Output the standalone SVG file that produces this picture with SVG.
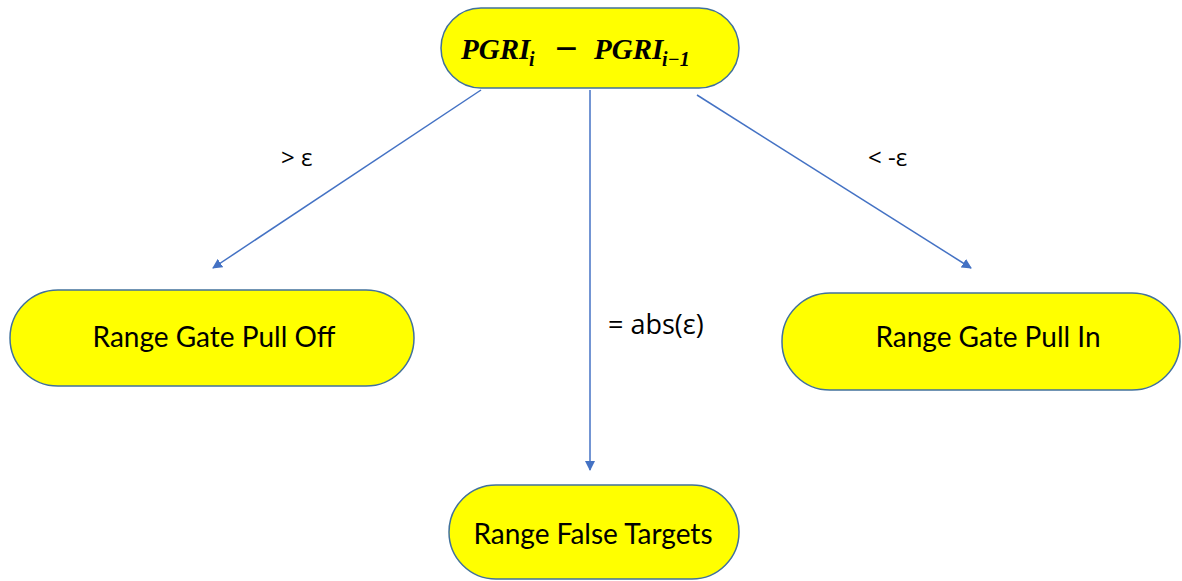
<svg xmlns="http://www.w3.org/2000/svg" width="1182" height="581" viewBox="0 0 1182 581">
<defs>
<marker id="arr" viewBox="0 0 10 10" refX="9" refY="5" markerWidth="10" markerHeight="10" markerUnits="userSpaceOnUse" orient="auto">
<path d="M0,0 L10,5 L0,10 z" fill="#4472C4"/>
</marker>
</defs>
<style>
.node{fill:#FFFF00;stroke:#41719C;stroke-width:1.5}
.lbl{font-family:Lato,"Open Sans",sans-serif;font-size:28px;fill:#000;text-anchor:middle}
.edge{stroke:#4472C4;stroke-width:1.5;fill:none;marker-end:url(#arr)}
.elbl{font-family:"Open Sans",Lato,sans-serif;font-size:24px;fill:#000}
.math{font-family:"Liberation Serif",serif;font-style:italic;font-weight:bold;fill:#000;font-size:29px}
.sub{font-size:20px}
</style>
<rect width="1182" height="581" fill="#fff"/>
<g id="connectors">
<line class="edge" x1="481" y1="90" x2="213" y2="268"/>
<line class="edge" x1="590" y1="90" x2="590" y2="470"/>
<line class="edge" x1="697" y1="95" x2="971" y2="268"/>
<text class="elbl" x="281" y="166">&gt; ε</text>
<text class="elbl" x="868" y="166">&lt; -ε</text>
<text class="elbl" x="608" y="334" style="font-size:27px">= abs(ε)</text>
</g>
<g id="top">
<rect class="node" x="441" y="8" width="298" height="80" rx="40" ry="40"/>
<text class="math" y="59"><tspan x="461">PGRI</tspan><tspan class="sub" x="529" y="66">i</tspan><tspan x="555" y="62" font-style="normal" font-size="40">−</tspan><tspan x="594" y="59">PGRI</tspan><tspan class="sub" x="662" y="66">i−1</tspan></text>
</g>
<g id="pull-off">
<rect class="node" x="10" y="290" width="404" height="96" rx="48" ry="48"/>
<text class="lbl" x="214" y="347">Range Gate Pull Off</text>
</g>
<g id="pull-in">
<rect class="node" x="782" y="293" width="398" height="97" rx="48" ry="48"/>
<text class="lbl" x="988" y="347">Range Gate Pull In</text>
</g>
<g id="false-targets">
<rect class="node" x="449" y="485" width="290" height="94" rx="47" ry="47"/>
<text class="lbl" x="593" y="544">Range False Targets</text>
</g>
</svg>
